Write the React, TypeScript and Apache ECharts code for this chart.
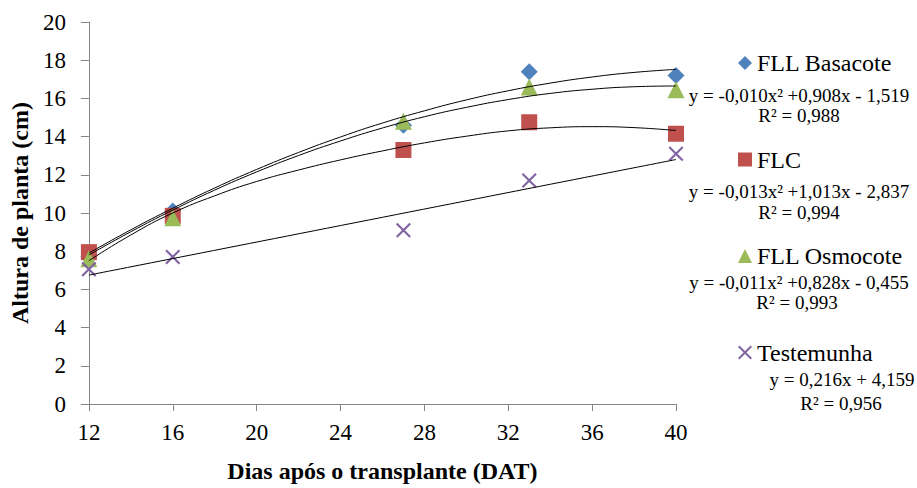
import React, { useEffect, useRef } from "react";
import * as echarts from "echarts";

// ---- Data ----
const days = [12, 16, 27, 33, 40];
const basacote = [7.7, 10.1, 14.6, 17.4, 17.2];
const flc = [7.95, 9.85, 13.3, 14.75, 14.15];
const osmocote = [7.6, 9.75, 14.8, 16.6, 16.45];
const testemunha = [7.05, 7.7, 9.1, 11.7, 13.1];

// trend lines
const trendX = [12, 14, 16, 18, 20, 22, 24, 26, 28, 30, 32, 34, 36, 38, 40];
const basacoteTrend = [7.9, 9.12, 10.25, 11.31, 12.28, 13.17, 13.98, 14.71, 15.35, 15.92, 16.4, 16.8, 17.12, 17.36, 17.52];
const osmocoteTrend = [7.8, 9.02, 10.15, 11.2, 12.15, 13.01, 13.77, 14.45, 15.04, 15.53, 15.94, 16.26, 16.48, 16.61, 16.65];
const flcTrend = [7.5, 8.85, 10.0, 10.9, 11.65, 12.25, 12.78, 13.25, 13.67, 14.02, 14.3, 14.46, 14.52, 14.47, 14.32];
const testemunhaTrendX = [12, 40];
const testemunhaTrend = [6.75, 12.8];

const seriesNames = ["FLL Basacote", "FLC", "FLL Osmocote", "Testemunha"];
const equations = [
  "y = -0,010x² +0,908x - 1,519",
  "y = -0,013x² +1,013x - 2,837",
  "y = -0,011x² +0,828x - 0,455",
  "y = 0,216x + 4,159",
];
const r2Texts = ["R² = 0,988", "R² = 0,994", "R² = 0,993", "R² = 0,956"];

const xTitle = "Dias após o transplante (DAT)";
const yTitle = "Altura de planta (cm)";

const colors = ["#4F81BD", "#C0504D", "#9BBB59", "#8064A2"];
const crossPath = "path://M0,1L1,0L10,9L9,10Z M9,0L10,1L1,10L0,9Z";
const FONT = "Liberation Serif";

const pairs = (xs: number[], ys: number[]) => xs.map((x, i) => [x, ys[i]]);

export default function App() {
  const ref = useRef<HTMLDivElement>(null);
  useEffect(() => {
    if (!ref.current) return;
    const chart = echarts.init(ref.current, null, { renderer: "svg" });
    const eqPos = [
      { ex: 799, ey: 95, rx: 799, ry: 115 },
      { ex: 799, ey: 191, rx: 799, ry: 212 },
      { ex: 799, ey: 282, rx: 797, ry: 302 },
      { ex: 842, ey: 379, rx: 841, ry: 403 },
    ];
    const graphics: any[] = [];
    equations.forEach((t, i) => {
      graphics.push({
        type: "text",
        x: eqPos[i].ex,
        y: eqPos[i].ey,
        style: { text: t, fontFamily: FONT, fontSize: 19, fill: "#000", align: "center", verticalAlign: "middle" },
      });
      graphics.push({
        type: "text",
        x: eqPos[i].rx,
        y: eqPos[i].ry,
        style: { text: r2Texts[i], fontFamily: FONT, fontSize: 19, fill: "#000", align: "center", verticalAlign: "middle" },
      });
    });

    const symbols = ["diamond", "rect", "triangle", crossPath];
    const sizes = [17, 16, 17, 15];
    const values = [basacote, flc, osmocote, testemunha];

    const scatterSeries = seriesNames.map((name, i) => ({
      name,
      type: "scatter",
      symbol: symbols[i],
      symbolSize: sizes[i],
      itemStyle: { color: colors[i], opacity: 1 },
      data: pairs(days, values[i]),
      z: 2,
    }));

    const trendDefs = [
      { xs: trendX, ys: basacoteTrend },
      { xs: trendX, ys: flcTrend },
      { xs: trendX, ys: osmocoteTrend },
      { xs: testemunhaTrendX, ys: testemunhaTrend },
    ];
    const trendSeries = trendDefs.map((d, i) => ({
      name: "trend" + i,
      type: "line",
      smooth: true,
      showSymbol: false,
      symbol: "none",
      lineStyle: { color: "#000", width: 1 },
      data: pairs(d.xs, d.ys),
      z: 3,
      silent: true,
    }));

    chart.setOption({
      animation: false,
      backgroundColor: "#fff",
      grid: { left: 86, top: 22, width: 590, height: 390, containLabel: false },
      xAxis: {
        type: "value",
        min: 12,
        max: 40,
        interval: 4,
        name: xTitle,
        nameLocation: "middle",
        nameGap: 55,
        nameTextStyle: { fontFamily: FONT, fontSize: 24, fontWeight: "bold", color: "#000" },
        axisLine: { show: true, lineStyle: { color: "#868686", width: 1 } },
        axisTick: { show: true, length: 7, lineStyle: { color: "#868686" } },
        axisLabel: { fontFamily: FONT, fontSize: 23, color: "#000", margin: 17 },
        splitLine: { show: false },
      },
      yAxis: {
        type: "value",
        min: 0,
        max: 20,
        interval: 2,
        name: yTitle,
        nameLocation: "middle",
        nameGap: 54,
        nameTextStyle: { fontFamily: FONT, fontSize: 24, fontWeight: "bold", color: "#000" },
        axisLine: { show: true, lineStyle: { color: "#868686", width: 1 } },
        axisTick: { show: true, length: 8, lineStyle: { color: "#868686" } },
        axisLabel: { fontFamily: FONT, fontSize: 23, color: "#000", margin: 23 },
        splitLine: { show: false },
      },
      legend: {
        orient: "vertical",
        left: 733,
        top: 46,
        itemWidth: 14,
        itemHeight: 14,
        itemGap: 72.5,
        textStyle: { fontFamily: FONT, fontSize: 24, color: "#000" },
        data: seriesNames,
      },
      graphic: graphics,
      series: [...scatterSeries, ...trendSeries],
    });
    return () => chart.dispose();
  }, []);
  return (
    <div
      ref={ref}
      style={{ position: "fixed", left: 0, top: 0, width: 917, height: 488, background: "#fff" }}
    />
  );
}
